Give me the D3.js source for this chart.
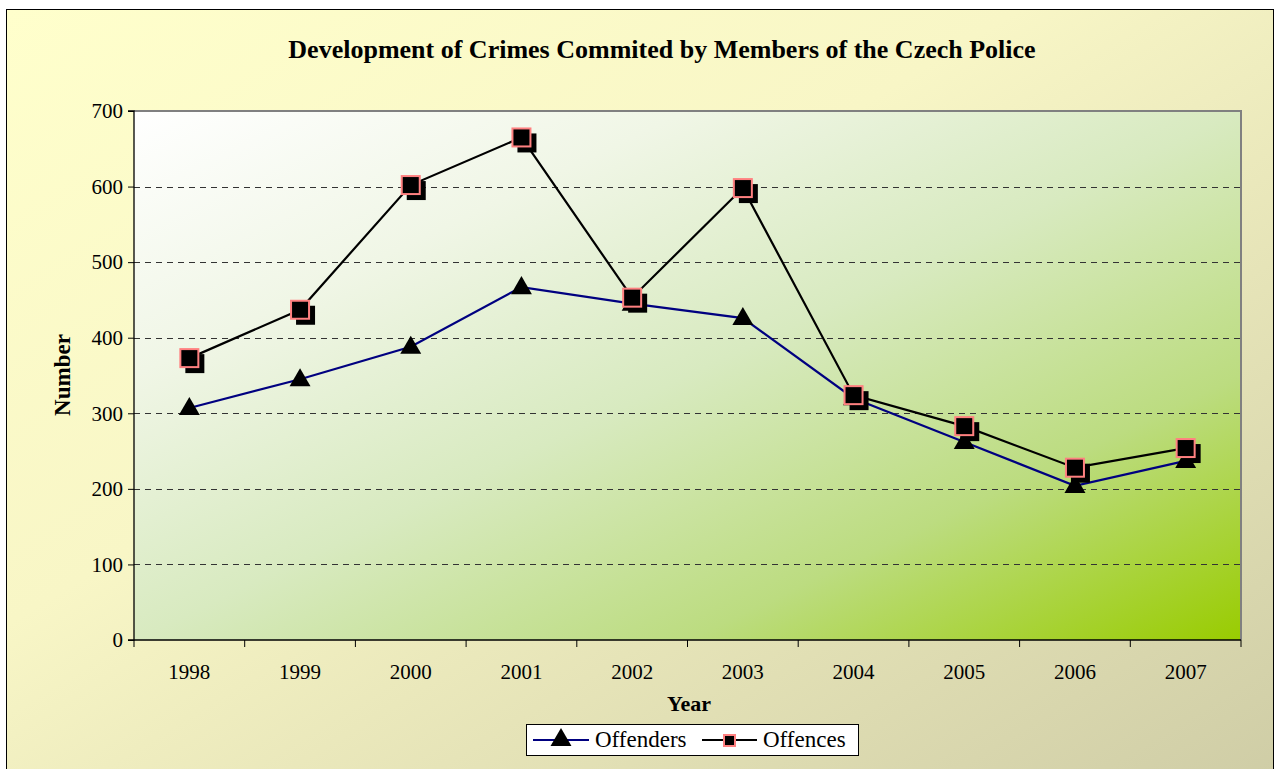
<!DOCTYPE html>
<html>
<head>
<meta charset="utf-8">
<script src="https://cdn.jsdelivr.net/npm/d3@7"></script>
<style>
  body { margin: 0; background: #fff; }
  svg { display: block; }
  svg text { font-family: "Liberation Serif", "Times New Roman", serif; }
</style>
</head>
<body>
<div id="chart"></div>
<script>
// data
var years = ["1998","1999","2000","2001","2002","2003","2004","2005","2006","2007"];
var offenders = [307, 345, 388, 467, 445, 426, 320, 262, 204, 237];
var offences = [373, 437, 602, 665, 453, 598, 324, 283, 228, 254];
var yTicks = [0, 100, 200, 300, 400, 500, 600, 700];

var W = 1275, H = 769;
var m = {left: 134, top: 111, right: 1241, bottom: 640};
var SERIF = "Liberation Serif";

var svg = d3.select("#chart").append("svg").attr("width", W).attr("height", H);
var defs = svg.append("defs");

var gOuter = defs.append("linearGradient").attr("id", "grad_outer")
    .attr("x1", "0%").attr("y1", "0%").attr("x2", "100%").attr("y2", "100%");
gOuter.append("stop").attr("offset", "0%").style("stop-color", "#FFFFCC");
gOuter.append("stop").attr("offset", "40%").style("stop-color", "#F8F6C6");
gOuter.append("stop").attr("offset", "100%").style("stop-color", "#CFCDA6");

var gPlot = defs.append("linearGradient").attr("id", "grad_plot")
    .attr("x1", "0%").attr("y1", "0%").attr("x2", "100%").attr("y2", "100%");
gPlot.append("stop").attr("offset", "0%").style("stop-color", "#FFFFFF");
gPlot.append("stop").attr("offset", "25%").style("stop-color", "#F0F6E6");
gPlot.append("stop").attr("offset", "50%").style("stop-color", "#D8EAC0");
gPlot.append("stop").attr("offset", "75%").style("stop-color", "#BCDC80");
gPlot.append("stop").attr("offset", "100%").style("stop-color", "#99CC00");

// outer chart area
svg.append("rect")
    .attr("x", 6.5).attr("y", 9.5)
    .attr("width", W - 8).attr("height", H)
    .style("fill", "url(#grad_outer)")
    .style("stroke", "#000").style("stroke-width", 1);

// plot area
svg.append("rect")
    .attr("x", m.left).attr("y", m.top)
    .attr("width", m.right - m.left).attr("height", m.bottom - m.top)
    .style("fill", "url(#grad_plot)");

var x = d3.scaleBand().domain(years).range([m.left, m.right]);
var y = d3.scaleLinear().domain([0, 700]).range([m.bottom, m.top]);

// gridlines
svg.append("g").selectAll("line")
    .data(yTicks.filter(function(d) { return d > 0 && d < 700; }))
    .enter().append("line")
    .attr("x1", m.left).attr("x2", m.right)
    .attr("y1", function(d) { return Math.round(y(d)) + 0.5; })
    .attr("y2", function(d) { return Math.round(y(d)) + 0.5; })
    .style("stroke", "#333").style("stroke-width", 1)
    .style("stroke-dasharray", "6,5");

// top / right plot border (grey)
svg.append("path")
    .attr("d", "M" + m.left + "," + m.top + "H" + m.right + "V" + m.bottom)
    .style("fill", "none").style("stroke", "#808080").style("stroke-width", 2);

// axes
var yAxis = d3.axisLeft(y).tickValues(yTicks).tickSize(6).tickPadding(5);
var ya = svg.append("g").attr("transform", "translate(" + m.left + ",0)").call(yAxis);

var xAxis = d3.axisBottom(x).tickSize(0).tickPadding(24);
var xa = svg.append("g").attr("transform", "translate(0," + m.bottom + ")").call(xAxis);

// x tick marks sit between categories
var bounds = years.map(function(d) { return x(d); }).concat([m.right]);
xa.selectAll(".sep").data(bounds).enter().append("line")
    .attr("class", "sep")
    .attr("x1", function(d) { return d; }).attr("x2", function(d) { return d; })
    .attr("y1", 0).attr("y2", 7)
    .style("stroke", "#000");

[ya, xa].forEach(function(a) {
  a.attr("font-family", SERIF).attr("font-size", 21);
  a.select(".domain").style("stroke", "#000").style("stroke-width", 1.3);
  a.selectAll("text").style("font-family", SERIF).style("font-size", "21px").style("fill", "#000");
  a.selectAll(".tick line").style("stroke", "#000");
});
ya.select(".domain").attr("d", "M-6," + m.top + "H0V" + m.bottom + "H-6");
xa.select(".domain").attr("d", "M" + m.left + ",0H" + m.right);

// title and axis titles
svg.append("text")
    .attr("x", 662).attr("y", 58)
    .attr("text-anchor", "middle")
    .style("font-family", SERIF)
    .style("font-size", "26px").style("font-weight", "bold")
    .text("Development of Crimes Commited by Members of the Czech Police");

svg.append("text")
    .attr("x", 689).attr("y", 711)
    .attr("text-anchor", "middle")
    .style("font-family", SERIF)
    .style("font-size", "22px").style("font-weight", "bold")
    .text("Year");

svg.append("text")
    .attr("transform", "translate(70,375) rotate(-90)")
    .attr("text-anchor", "middle")
    .style("font-family", SERIF)
    .style("font-size", "23px").style("font-weight", "bold")
    .text("Number");

// lines
var line = d3.line()
    .x(function(d, i) { return x(years[i]) + x.bandwidth() / 2; })
    .y(function(d) { return y(d); });

svg.append("path").datum(offenders).attr("d", line)
    .style("fill", "none").style("stroke", "#000080").style("stroke-width", 2.2);
svg.append("path").datum(offences).attr("d", line)
    .style("fill", "none").style("stroke", "#000").style("stroke-width", 2.2);

var tri = d3.symbol().type(d3.symbolTriangle).size(190);

function drawTriangle(g, cx, cy) {
  g.append("path").attr("d", tri)
      .attr("transform", "translate(" + cx + "," + (cy + 1) + ")")
      .style("fill", "#000");
}

function drawSquare(g, cx, cy) {
  g.append("rect")
      .attr("x", cx - 9 + 5).attr("y", cy - 9 + 5)
      .attr("width", 19).attr("height", 19)
      .style("fill", "#000");
  g.append("rect")
      .attr("x", cx - 9).attr("y", cy - 9)
      .attr("width", 18).attr("height", 18)
      .style("fill", "#000").style("stroke", "#FF8080").style("stroke-width", 2);
}

var mk = svg.append("g");
offenders.forEach(function(d, i) {
  drawTriangle(mk, x(years[i]) + x.bandwidth() / 2, y(d));
});
offences.forEach(function(d, i) {
  drawSquare(mk, x(years[i]) + x.bandwidth() / 2, y(d));
});

// legend
var lg = svg.append("g");
lg.append("rect")
    .attr("x", 526.5).attr("y", 724.5).attr("width", 332).attr("height", 31)
    .style("fill", "#fff").style("stroke", "#000").style("stroke-width", 1);
lg.append("line").attr("x1", 533).attr("x2", 589).attr("y1", 740).attr("y2", 740)
    .style("stroke", "#000080").style("stroke-width", 2.2);
drawTriangle(lg, 561, 739);
lg.append("text").attr("x", 595).attr("y", 747)
    .style("font-family", SERIF).style("font-size", "23px").text("Offenders");
lg.append("line").attr("x1", 702).attr("x2", 757).attr("y1", 740).attr("y2", 740)
    .style("stroke", "#000").style("stroke-width", 2.2);
lg.append("rect").attr("x", 724).attr("y", 735).attr("width", 11).attr("height", 11)
    .style("fill", "#000").style("stroke", "#FF8080").style("stroke-width", 2);
lg.append("text").attr("x", 763).attr("y", 747)
    .style("font-family", SERIF).style("font-size", "23px").text("Offences");
</script>
</body>
</html>
